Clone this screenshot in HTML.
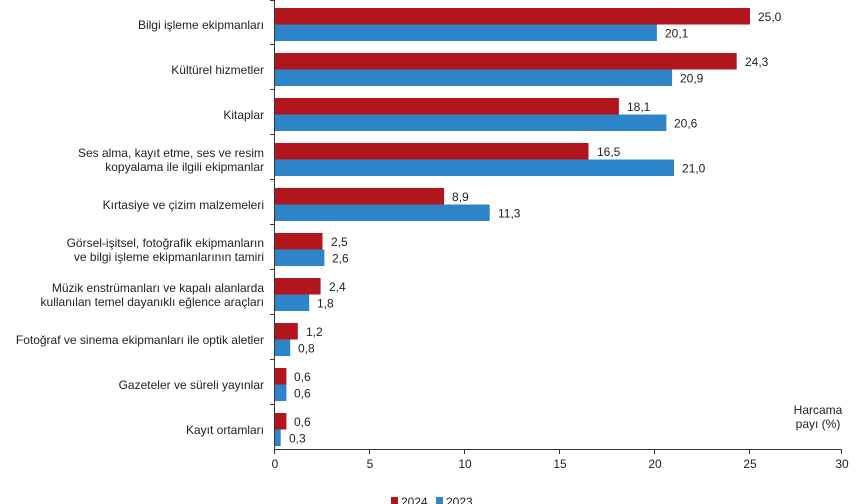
<!DOCTYPE html><html><head><meta charset="utf-8"><style>body{margin:0;background:#fff}svg{display:block}text{font-family:"Liberation Sans",sans-serif;font-size:12px;fill:#222}.r{fill:#b0161c}.b{fill:#2e84c9}</style></head><body>
<svg width="860" height="504" viewBox="0 0 860 504">
<rect class="r" x="275" y="8" width="475" height="16.5"/><rect class="b" x="275" y="24.5" width="381.9" height="16.5"/>
<rect class="r" x="275" y="53" width="461.7" height="16.5"/><rect class="b" x="275" y="69.5" width="397.1" height="16.5"/>
<rect class="r" x="275" y="98" width="343.9" height="16.5"/><rect class="b" x="275" y="114.5" width="391.4" height="16.5"/>
<rect class="r" x="275" y="143" width="313.5" height="16.5"/><rect class="b" x="275" y="159.5" width="399" height="16.5"/>
<rect class="r" x="275" y="188" width="169.1" height="16.5"/><rect class="b" x="275" y="204.5" width="214.7" height="16.5"/>
<rect class="r" x="275" y="233" width="47.5" height="16.5"/><rect class="b" x="275" y="249.5" width="49.4" height="16.5"/>
<rect class="r" x="275" y="278" width="45.6" height="16.5"/><rect class="b" x="275" y="294.5" width="34.2" height="16.5"/>
<rect class="r" x="275" y="323" width="22.8" height="16.5"/><rect class="b" x="275" y="339.5" width="15.2" height="16.5"/>
<rect class="r" x="275" y="368" width="11.4" height="16.5"/><rect class="b" x="275" y="384.5" width="11.4" height="16.5"/>
<rect class="r" x="275" y="413" width="11.4" height="16.5"/><rect class="b" x="275" y="429.5" width="5.7" height="16.5"/>
<text x="758" y="21">25,0</text><text x="665" y="37.5">20,1</text>
<text x="745" y="66">24,3</text><text x="680" y="82.5">20,9</text>
<text x="627" y="111">18,1</text><text x="674" y="127.5">20,6</text>
<text x="597" y="156">16,5</text><text x="682" y="172.5">21,0</text>
<text x="452" y="201">8,9</text><text x="498" y="217.5">11,3</text>
<text x="331" y="246">2,5</text><text x="332" y="262.5">2,6</text>
<text x="329" y="291">2,4</text><text x="317" y="307.5">1,8</text>
<text x="306" y="336">1,2</text><text x="298" y="352.5">0,8</text>
<text x="294" y="381">0,6</text><text x="294" y="397.5">0,6</text>
<text x="294" y="426">0,6</text><text x="289" y="442.5">0,3</text>
<line x1="274.5" y1="0" x2="274.5" y2="449" stroke="#333"/>
<line x1="274" y1="449.5" x2="842" y2="449.5" stroke="#333"/>
<g stroke="#333">
<line x1="270" y1="0.5" x2="274" y2="0.5"/><line x1="270" y1="44.5" x2="274" y2="44.5"/><line x1="270" y1="89.5" x2="274" y2="89.5"/><line x1="270" y1="134.5" x2="274" y2="134.5"/><line x1="270" y1="179.5" x2="274" y2="179.5"/><line x1="270" y1="224.5" x2="274" y2="224.5"/><line x1="270" y1="269.5" x2="274" y2="269.5"/><line x1="270" y1="314.5" x2="274" y2="314.5"/><line x1="270" y1="359.5" x2="274" y2="359.5"/><line x1="270" y1="404.5" x2="274" y2="404.5"/>
<line x1="274.5" y1="449" x2="274.5" y2="454"/><line x1="369.5" y1="449" x2="369.5" y2="454"/><line x1="464.5" y1="449" x2="464.5" y2="454"/><line x1="559.5" y1="449" x2="559.5" y2="454"/><line x1="654.5" y1="449" x2="654.5" y2="454"/><line x1="749.5" y1="449" x2="749.5" y2="454"/><line x1="841.5" y1="449" x2="841.5" y2="454"/>
</g>
<g text-anchor="middle">
<text x="275" y="468">0</text><text x="370" y="468">5</text><text x="465" y="468">10</text><text x="560" y="468">15</text><text x="655" y="468">20</text><text x="750" y="468">25</text><text x="842" y="468">30</text>
<text x="818" y="414">Harcama</text><text x="818" y="428">payı (%)</text>
</g>
<g text-anchor="end">
<text x="264" y="29">Bilgi işleme ekipmanları</text>
<text x="264" y="74">Kültürel hizmetler</text>
<text x="264" y="119">Kitaplar</text>
<text x="264" y="157">Ses alma, kayıt etme, ses ve resim</text>
<text x="264" y="171">kopyalama ile ilgili ekipmanlar</text>
<text x="264" y="209">Kırtasiye ve çizim malzemeleri</text>
<text x="264" y="247">Görsel-işitsel, fotoğrafik ekipmanların</text>
<text x="264" y="261">ve bilgi işleme ekipmanlarının tamiri</text>
<text x="264" y="292">Müzik enstrümanları ve kapalı alanlarda</text>
<text x="264" y="306">kullanılan temel dayanıklı eğlence araçları</text>
<text x="264" y="344">Fotoğraf ve sinema ekipmanları ile optik aletler</text>
<text x="264" y="389">Gazeteler ve süreli yayınlar</text>
<text x="264" y="434">Kayıt ortamları</text>
</g>
<rect class="r" x="391" y="497" width="7" height="7"/><text x="401" y="506">2024</text>
<rect class="b" x="436" y="497" width="7" height="7"/><text x="446" y="506">2023</text>
</svg></body></html>
